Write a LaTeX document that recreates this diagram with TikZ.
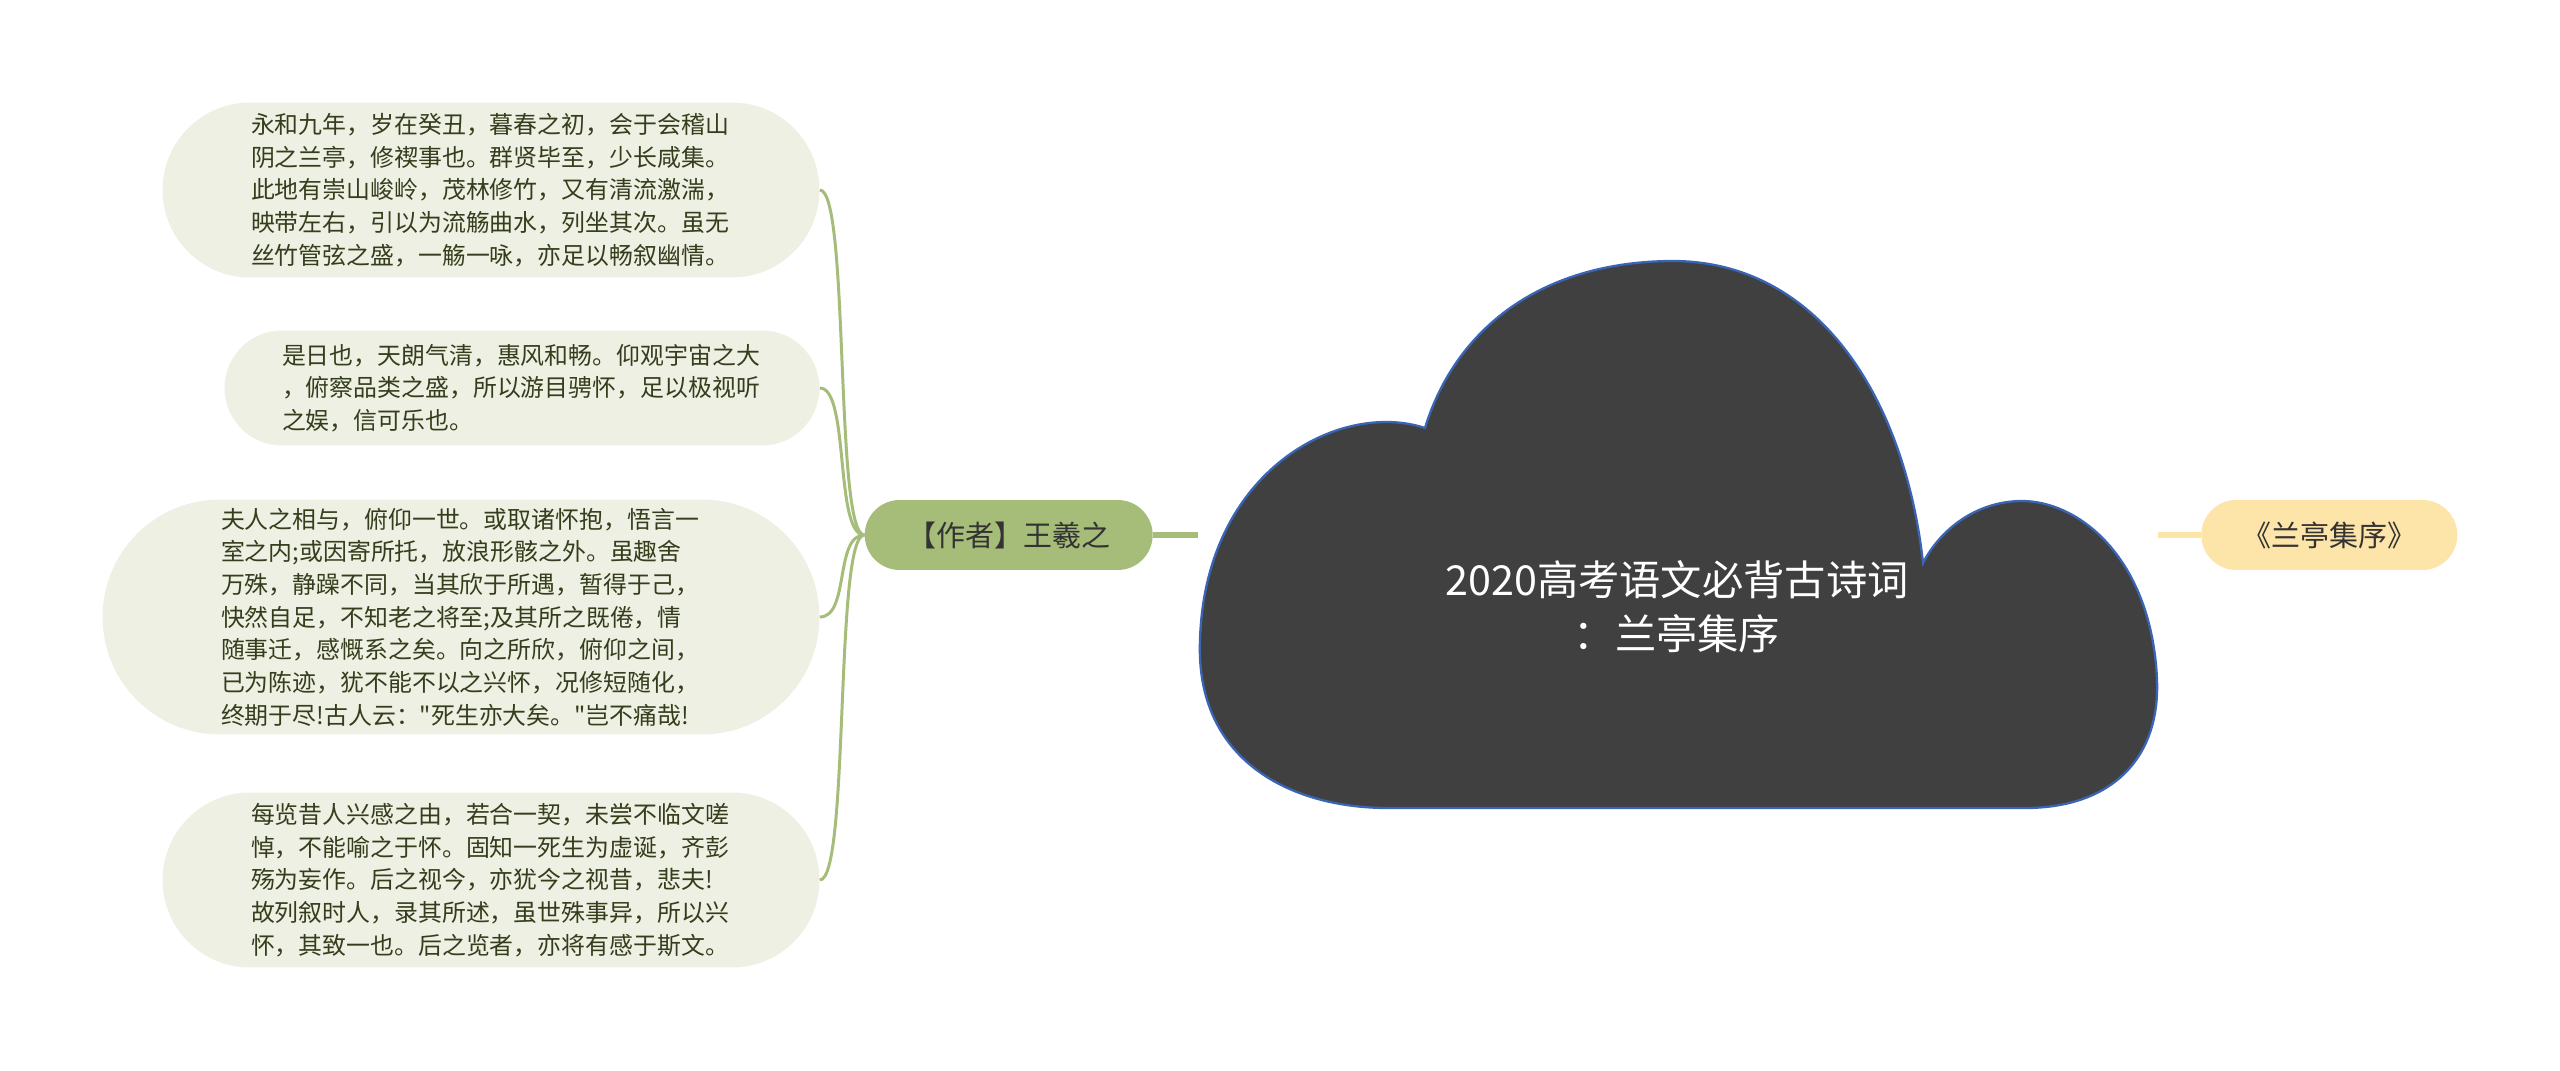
\documentclass[tikz,border=0pt]{standalone}
\usepackage{fontspec}
\setmainfont{Noto Sans CJK SC}[Ligatures=TeXOff]
\usetikzlibrary{positioning}
\definecolor{leafbg}{RGB}{238,240,227}
\definecolor{leaftxt}{RGB}{52,62,28}
\definecolor{branch}{RGB}{166,189,122}
\definecolor{sidebg}{RGB}{253,228,168}
\definecolor{cloudbg}{RGB}{64,64,64}
\definecolor{cloudline}{RGB}{58,100,180}

\begin{document}
\begin{tikzpicture}[x=0.02cm,y=-0.02cm,
  leaf/.style={fill=leafbg,text=leaftxt,align=left,text width=9.6cm,inner sep=0pt,font=\fontsize{13.6}{18.6}\selectfont},
  topic/.style={fill=branch,text=black!80,minimum width=5.76cm,minimum height=1.4cm,rounded corners=0.7cm,inner sep=0pt,font=\fontsize{16.5}{20}\selectfont},
  side/.style={topic,fill=sidebg,minimum width=5.12cm},
  title/.style={align=center,text=white,font=\fontsize{23.5}{30.6}\selectfont},
  link/.style={draw=branch,line width=1.7pt},
  stub/.style={line width=3.6pt},
]
  \useasboundingbox (0,0) rectangle (2560,1071);
  \fill[white] (0,0) rectangle (2560,1071);
  % central cloud
  \filldraw[fill=cloudbg,draw=cloudline,line width=1.3pt]
    (1388,808) -- (2025,808)
    .. controls (2110,808) and (2160,760) .. (2157,680)
    .. controls (2152,560) and (2080,500) .. (2020,501)
    .. controls (1975,502) and (1940,530) .. (1923,563)
    .. controls (1905,400) and (1820,262) .. (1674,261)
    .. controls (1540,261) and (1455,330) .. (1425,428)
    .. controls (1340,400) and (1205,470) .. (1200,640)
    .. controls (1195,760) and (1290,808) .. cycle;
  \node[title] (title) at (1677,607) {2020高考语文必背古诗词\\：兰亭集序};
  \coordinate (cloudW) at (1198,535);
  \coordinate (cloudE) at (2158,535);
  % main branches
  \node[topic,left=0.9cm of cloudW] (author) {【作者】王羲之};
  \node[side,right=0.86cm of cloudE] (book) {《兰亭集序》};
  \draw[link,stub] (author) -- (cloudW);
  \draw[stub,draw=sidebg] (cloudE) -- (book);
  % text leaves
  \node[leaf,minimum width=13.14cm,minimum height=3.5cm,rounded corners=1.75cm] (p1) at (491,190)
    {永和九年，岁在癸丑，暮春之初，会于会稽山\\阴之兰亭，修禊事也。群贤毕至，少长咸集。\\此地有崇山峻岭，茂林修竹，又有清流激湍，\\映带左右，引以为流觞曲水，列坐其次。虽无\\丝竹管弦之盛，一觞一咏，亦足以畅叙幽情。};
  \node[leaf,minimum width=11.9cm,minimum height=2.3cm,rounded corners=1.15cm] (p2) at (522,388)
    {是日也，天朗气清，惠风和畅。仰观宇宙之大\\，俯察品类之盛，所以游目骋怀，足以极视听\\之娱，信可乐也。};
  \node[leaf,minimum width=14.34cm,minimum height=4.7cm,rounded corners=2.35cm] (p3) at (461,617)
    {夫人之相与，俯仰一世。或取诸怀抱，悟言一\\室之内;或因寄所托，放浪形骸之外。虽趣舍\\万殊，静躁不同，当其欣于所遇，暂得于己，\\快然自足，不知老之将至;及其所之既倦，情\\随事迁，感慨系之矣。向之所欣，俯仰之间，\\已为陈迹，犹不能不以之兴怀，况修短随化，\\终期于尽!古人云："死生亦大矣。"岂不痛哉!};
  \node[leaf,minimum width=13.14cm,minimum height=3.5cm,rounded corners=1.75cm] (p4) at (491,880)
    {每览昔人兴感之由，若合一契，未尝不临文嗟\\悼，不能喻之于怀。固知一死生为虚诞，齐彭\\殇为妄作。后之视今，亦犹今之视昔，悲夫!\\故列叙时人，录其所述，虽世殊事异，所以兴\\怀，其致一也。后之览者，亦将有感于斯文。};
  \foreach \p in {p1,p2,p3,p4}
    \draw[link] (author.west) .. controls +(-30,0) and +(30,0) .. (\p.east);
\end{tikzpicture}
\end{document}
